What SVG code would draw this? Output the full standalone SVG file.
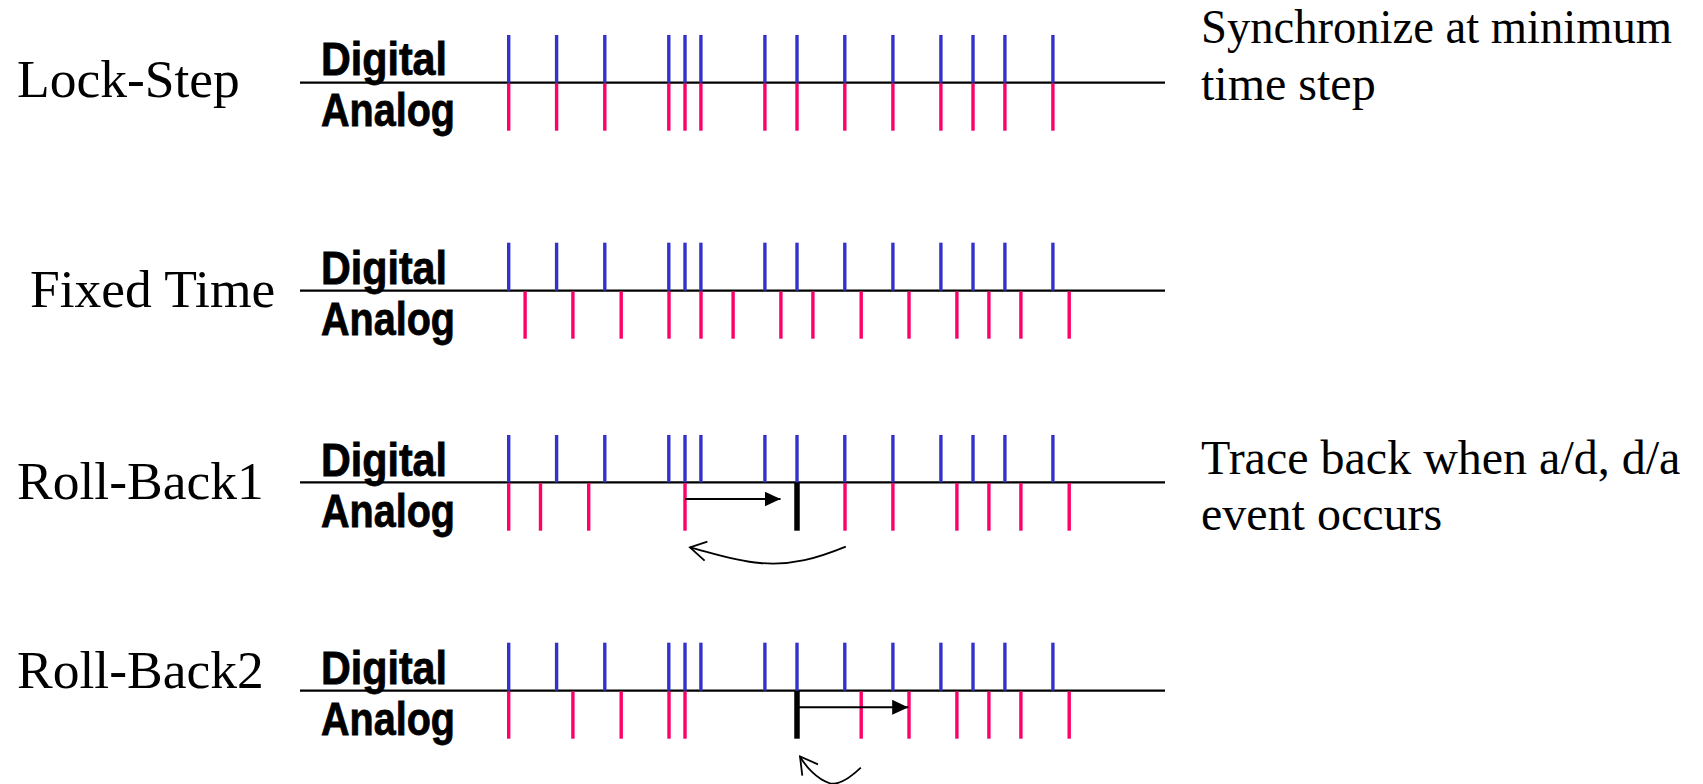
<svg xmlns="http://www.w3.org/2000/svg" width="1703" height="784" viewBox="0 0 1703 784">
<style>
.lbl{font-family:"Liberation Serif","Times New Roman",serif;font-size:53.5px;fill:#000}
.note{font-family:"Liberation Serif","Times New Roman",serif;font-size:48px;fill:#000}
.da{font-family:"Liberation Sans",Arial,sans-serif;font-weight:bold;font-size:46px;fill:#000;stroke:#000;stroke-width:0.8}
.axis{stroke:#000;stroke-width:2.2}
.b{stroke:#3333cc;stroke-width:3.4}
.r{stroke:#ff0066;stroke-width:3.4}
.bar{stroke:#000;stroke-width:5.5}
.arr{stroke:#000;stroke-width:2;fill:none}
.curve{stroke:#000;stroke-width:1.8;fill:none}
</style>
<defs>
<marker id="tri" markerWidth="16" markerHeight="15" refX="16" refY="7.5" orient="auto" markerUnits="userSpaceOnUse" viewBox="0 0 16 15">
<path d="M0,0 L16,7.5 L0,15 z" fill="#000"/>
</marker>
</defs>
<rect width="1703" height="784" fill="#fff"/>

<g id="lockstep">
<text class="lbl" x="17" y="97">Lock-Step</text>
<text class="da" x="321" y="75" textLength="126" lengthAdjust="spacingAndGlyphs">Digital</text>
<text class="da" x="321" y="126" textLength="134" lengthAdjust="spacingAndGlyphs">Analog</text>
<line class="axis" x1="300" y1="82.7" x2="1165" y2="82.7"/>
<g class="b">
<line x1="508.7" y1="35" x2="508.7" y2="82.7"/><line x1="556.6" y1="35" x2="556.6" y2="82.7"/><line x1="604.8" y1="35" x2="604.8" y2="82.7"/><line x1="668.8" y1="35" x2="668.8" y2="82.7"/><line x1="685" y1="35" x2="685" y2="82.7"/><line x1="700.9" y1="35" x2="700.9" y2="82.7"/><line x1="764.9" y1="35" x2="764.9" y2="82.7"/><line x1="797" y1="35" x2="797" y2="82.7"/><line x1="844.8" y1="35" x2="844.8" y2="82.7"/><line x1="892.9" y1="35" x2="892.9" y2="82.7"/><line x1="940.9" y1="35" x2="940.9" y2="82.7"/><line x1="973" y1="35" x2="973" y2="82.7"/><line x1="1004.9" y1="35" x2="1004.9" y2="82.7"/><line x1="1052.9" y1="35" x2="1052.9" y2="82.7"/>
</g>
<g class="r">
<line x1="508.7" y1="83.5" x2="508.7" y2="130.7"/><line x1="556.6" y1="83.5" x2="556.6" y2="130.7"/><line x1="604.8" y1="83.5" x2="604.8" y2="130.7"/><line x1="668.8" y1="83.5" x2="668.8" y2="130.7"/><line x1="685" y1="83.5" x2="685" y2="130.7"/><line x1="700.9" y1="83.5" x2="700.9" y2="130.7"/><line x1="764.9" y1="83.5" x2="764.9" y2="130.7"/><line x1="797" y1="83.5" x2="797" y2="130.7"/><line x1="844.8" y1="83.5" x2="844.8" y2="130.7"/><line x1="892.9" y1="83.5" x2="892.9" y2="130.7"/><line x1="940.9" y1="83.5" x2="940.9" y2="130.7"/><line x1="973" y1="83.5" x2="973" y2="130.7"/><line x1="1004.9" y1="83.5" x2="1004.9" y2="130.7"/><line x1="1052.9" y1="83.5" x2="1052.9" y2="130.7"/>
</g>
<text class="note" x="1201" y="43.3" textLength="471" lengthAdjust="spacingAndGlyphs">Synchronize at minimum</text>
<text class="note" x="1201" y="100">time step</text>
</g>

<g id="fixedtime">
<text class="lbl" x="30" y="306.7">Fixed Time</text>
<text class="da" x="321" y="284" textLength="126" lengthAdjust="spacingAndGlyphs">Digital</text>
<text class="da" x="321" y="334.5" textLength="134" lengthAdjust="spacingAndGlyphs">Analog</text>
<line class="axis" x1="300" y1="290.7" x2="1165" y2="290.7"/>
<g class="b">
<line x1="508.7" y1="242.7" x2="508.7" y2="290.7"/><line x1="556.6" y1="242.7" x2="556.6" y2="290.7"/><line x1="604.8" y1="242.7" x2="604.8" y2="290.7"/><line x1="668.8" y1="242.7" x2="668.8" y2="290.7"/><line x1="685" y1="242.7" x2="685" y2="290.7"/><line x1="700.9" y1="242.7" x2="700.9" y2="290.7"/><line x1="764.9" y1="242.7" x2="764.9" y2="290.7"/><line x1="797" y1="242.7" x2="797" y2="290.7"/><line x1="844.8" y1="242.7" x2="844.8" y2="290.7"/><line x1="892.9" y1="242.7" x2="892.9" y2="290.7"/><line x1="940.9" y1="242.7" x2="940.9" y2="290.7"/><line x1="973" y1="242.7" x2="973" y2="290.7"/><line x1="1004.9" y1="242.7" x2="1004.9" y2="290.7"/><line x1="1052.9" y1="242.7" x2="1052.9" y2="290.7"/>
</g>
<g class="r">
<line x1="525.1" y1="291.5" x2="525.1" y2="338.7"/><line x1="572.9" y1="291.5" x2="572.9" y2="338.7"/><line x1="621.2" y1="291.5" x2="621.2" y2="338.7"/><line x1="669" y1="291.5" x2="669" y2="338.7"/><line x1="701" y1="291.5" x2="701" y2="338.7"/><line x1="733.1" y1="291.5" x2="733.1" y2="338.7"/><line x1="780.9" y1="291.5" x2="780.9" y2="338.7"/><line x1="812.9" y1="291.5" x2="812.9" y2="338.7"/><line x1="861.2" y1="291.5" x2="861.2" y2="338.7"/><line x1="909" y1="291.5" x2="909" y2="338.7"/><line x1="956.9" y1="291.5" x2="956.9" y2="338.7"/><line x1="988.9" y1="291.5" x2="988.9" y2="338.7"/><line x1="1020.9" y1="291.5" x2="1020.9" y2="338.7"/><line x1="1069.2" y1="291.5" x2="1069.2" y2="338.7"/>
</g>
</g>

<g id="rollback1">
<text class="lbl" x="17" y="499">Roll-Back1</text>
<text class="da" x="321" y="476" textLength="126" lengthAdjust="spacingAndGlyphs">Digital</text>
<text class="da" x="321" y="526.5" textLength="134" lengthAdjust="spacingAndGlyphs">Analog</text>
<line class="axis" x1="300" y1="482.3" x2="1165" y2="482.3"/>
<g class="b">
<line x1="508.7" y1="435" x2="508.7" y2="482.3"/><line x1="556.6" y1="435" x2="556.6" y2="482.3"/><line x1="604.8" y1="435" x2="604.8" y2="482.3"/><line x1="668.8" y1="435" x2="668.8" y2="482.3"/><line x1="685" y1="435" x2="685" y2="482.3"/><line x1="700.9" y1="435" x2="700.9" y2="482.3"/><line x1="764.9" y1="435" x2="764.9" y2="482.3"/><line x1="797" y1="435" x2="797" y2="482.3"/><line x1="844.8" y1="435" x2="844.8" y2="482.3"/><line x1="892.9" y1="435" x2="892.9" y2="482.3"/><line x1="940.9" y1="435" x2="940.9" y2="482.3"/><line x1="973" y1="435" x2="973" y2="482.3"/><line x1="1004.9" y1="435" x2="1004.9" y2="482.3"/><line x1="1052.9" y1="435" x2="1052.9" y2="482.3"/>
</g>
<g class="r">
<line x1="508.7" y1="483.1" x2="508.7" y2="530.7"/><line x1="540.5" y1="483.1" x2="540.5" y2="530.7"/><line x1="588.7" y1="483.1" x2="588.7" y2="530.7"/><line x1="685" y1="483.1" x2="685" y2="530.7"/><line x1="845" y1="483.1" x2="845" y2="530.7"/><line x1="892.9" y1="483.1" x2="892.9" y2="530.7"/><line x1="956.9" y1="483.1" x2="956.9" y2="530.7"/><line x1="988.9" y1="483.1" x2="988.9" y2="530.7"/><line x1="1020.9" y1="483.1" x2="1020.9" y2="530.7"/><line x1="1069.2" y1="483.1" x2="1069.2" y2="530.7"/>
</g>
<line class="bar" x1="797" y1="483" x2="797" y2="530.7"/>
<text class="note" x="1201" y="474">Trace back when a/d, d/a</text>
<text class="note" x="1201" y="530">event occurs</text>
</g>

<g id="rollback2">
<text class="lbl" x="17" y="687.5">Roll-Back2</text>
<text class="da" x="321" y="684" textLength="126" lengthAdjust="spacingAndGlyphs">Digital</text>
<text class="da" x="321" y="734.5" textLength="134" lengthAdjust="spacingAndGlyphs">Analog</text>
<line class="axis" x1="300" y1="690.7" x2="1165" y2="690.7"/>
<g class="b">
<line x1="508.7" y1="642.7" x2="508.7" y2="690.7"/><line x1="556.6" y1="642.7" x2="556.6" y2="690.7"/><line x1="604.8" y1="642.7" x2="604.8" y2="690.7"/><line x1="668.8" y1="642.7" x2="668.8" y2="690.7"/><line x1="685" y1="642.7" x2="685" y2="690.7"/><line x1="700.9" y1="642.7" x2="700.9" y2="690.7"/><line x1="764.9" y1="642.7" x2="764.9" y2="690.7"/><line x1="797" y1="642.7" x2="797" y2="690.7"/><line x1="844.8" y1="642.7" x2="844.8" y2="690.7"/><line x1="892.9" y1="642.7" x2="892.9" y2="690.7"/><line x1="940.9" y1="642.7" x2="940.9" y2="690.7"/><line x1="973" y1="642.7" x2="973" y2="690.7"/><line x1="1004.9" y1="642.7" x2="1004.9" y2="690.7"/><line x1="1052.9" y1="642.7" x2="1052.9" y2="690.7"/>
</g>
<g class="r">
<line x1="508.7" y1="691.5" x2="508.7" y2="738.7"/><line x1="572.9" y1="691.5" x2="572.9" y2="738.7"/><line x1="621.2" y1="691.5" x2="621.2" y2="738.7"/><line x1="669" y1="691.5" x2="669" y2="738.7"/><line x1="685" y1="691.5" x2="685" y2="738.7"/><line x1="861.2" y1="691.5" x2="861.2" y2="738.7"/><line x1="909" y1="691.5" x2="909" y2="738.7"/><line x1="956.9" y1="691.5" x2="956.9" y2="738.7"/><line x1="988.9" y1="691.5" x2="988.9" y2="738.7"/><line x1="1020.9" y1="691.5" x2="1020.9" y2="738.7"/><line x1="1069.2" y1="691.5" x2="1069.2" y2="738.7"/>
</g>
<line class="bar" x1="797" y1="691" x2="797" y2="738.7"/>
</g>

<g id="connectors">
<line class="arr" x1="685" y1="499" x2="780.5" y2="499" marker-end="url(#tri)"/>
<path class="curve" d="M845.8,546.7 C818,558 792,566 760,563 C735,561 712,553 690,547.3"/>
<path class="curve" d="M707.4,541.7 L690,547.3 L704.6,560.7"/>
<line class="arr" x1="797" y1="707.3" x2="908.2" y2="707.3" marker-end="url(#tri)"/>
<path class="curve" d="M860.8,767.7 C850,778 838,786 829,783 C817,779 806,767 800,756.5"/>
<path class="curve" d="M818,764.3 L800,756.5 L802.3,775.7"/>
</g>
</svg>
